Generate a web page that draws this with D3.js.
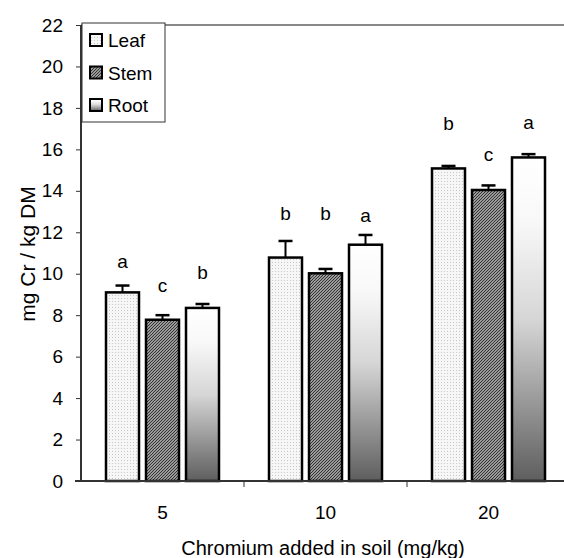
<!DOCTYPE html>
<html>
<head>
<meta charset="utf-8">
<script src="https://cdn.jsdelivr.net/npm/d3@7/dist/d3.min.js"></script>
<style>
  html, body { margin: 0; padding: 0; background: #fff; }
  svg { display: block; font-family: "Liberation Sans", Arial, sans-serif; }
</style>
</head>
<body>
<svg id="chart" width="564" height="558"></svg>
<script>
// Chromium content per plant organ, by dose added to soil
const doses = ["5", "10", "20"];
const organs = ["Leaf", "Stem", "Root"];
const leafMean = [9.1, 10.78, 15.08];
const stemMean = [7.78, 10.02, 14.04];
const rootMean = [8.35, 11.4, 15.61];
const leafErr = [0.33, 0.8, 0.12];
const stemErr = [0.22, 0.21, 0.22];
const rootErr = [0.19, 0.47, 0.16];
// Significance letters and the level (mg/kg) of their baseline
const leafLetters = ["a", "b", "b"];
const stemLetters = ["c", "b", "c"];
const rootLetters = ["b", "a", "a"];
const leafLetterLevel = [10.27, 12.59, 16.93];
const stemLetterLevel = [9.12, 12.59, 15.44];
const rootLetterLevel = [9.74, 12.49, 17.0];
const yTicks = [0, 2, 4, 6, 8, 10, 12, 14, 16, 18, 20, 22];

const means = [leafMean, stemMean, rootMean];
const errs = [leafErr, stemErr, rootErr];
const letters = [leafLetters, stemLetters, rootLetters];
const letterLevels = [leafLetterLevel, stemLetterLevel, rootLetterLevel];

const svg = d3.select("#chart");
const margin = { left: 81, top: 25, bottom: 481, right: 570 };
const FS = 19;

const x0 = d3.scaleBand().domain(doses).range([margin.left, margin.right]).padding(0);
const x1 = d3.scaleBand().domain(organs).range([0, x0.bandwidth()])
  .paddingInner(0.175).paddingOuter(0.625);
const y = d3.scaleLinear().domain([0, 22]).range([margin.bottom, margin.top]);

// Fills: dotted, hatched, and a vertical gradient
const defs = svg.append("defs");
const dots = defs.append("pattern").attr("id", "fill-Leaf")
  .attr("patternUnits", "userSpaceOnUse").attr("width", 3).attr("height", 3);
dots.append("rect").attr("width", 3).attr("height", 3).attr("fill", "#f6f6f6");
dots.append("rect").attr("x", 1).attr("y", 1).attr("width", 1).attr("height", 1).attr("fill", "#c8c8c8");

const hatch = defs.append("pattern").attr("id", "fill-Stem")
  .attr("patternUnits", "userSpaceOnUse").attr("width", 3).attr("height", 3);
hatch.append("rect").attr("width", 3).attr("height", 3).attr("fill", "#eeeeee");
hatch.append("path").attr("d", "M-1,1 L1,-1 M0,3 L3,0 M2,4 L4,2")
  .attr("stroke", "#333").attr("stroke-width", 1.3);

const grad = defs.append("linearGradient").attr("id", "fill-Root")
  .attr("x1", 0).attr("y1", 0).attr("x2", 0).attr("y2", 1);
[[0, "#ffffff"], [0.2, "#f8f8f8"], [0.5, "#d6d6d6"], [1, "#5e5e5e"]]
  .forEach(([o, c]) => grad.append("stop").attr("offset", o).attr("stop-color", c));

// Plot frame top edge
svg.append("line")
  .attr("x1", margin.left).attr("x2", margin.right)
  .attr("y1", margin.top).attr("y2", margin.top)
  .attr("stroke", "#888").attr("stroke-width", 2);

// Bars
const groups = svg.append("g").selectAll("g")
  .data(doses).join("g")
  .attr("transform", d => `translate(${x0(d)},0)`);

organs.forEach((organ, si) => {
  groups.each(function (dose, gi) {
    const g = d3.select(this);
    const v = means[si][gi];
    const e = errs[si][gi];
    const bx = x1(organ);
    const bw = x1.bandwidth();
    const cx = bx + bw / 2;
    // error bar (upper only)
    g.append("line").attr("x1", cx).attr("x2", cx)
      .attr("y1", y(v)).attr("y2", y(v + e))
      .attr("stroke", "#000").attr("stroke-width", 2);
    g.append("line").attr("x1", cx - 7).attr("x2", cx + 7)
      .attr("y1", y(v + e)).attr("y2", y(v + e))
      .attr("stroke", "#000").attr("stroke-width", 2.5);
    g.append("rect")
      .attr("x", bx).attr("y", y(v))
      .attr("width", bw).attr("height", y(0) - y(v))
      .attr("fill", `url(#fill-${organ})`)
      .attr("stroke", "#000").attr("stroke-width", 2.5);
    g.append("text")
      .attr("x", cx).attr("y", y(letterLevels[si][gi]))
      .attr("text-anchor", "middle")
      .attr("font-size", FS).attr("fill", "#000")
      .text(letters[si][gi]);
  });
});

// Axes
const yAxis = svg.append("g")
  .attr("transform", `translate(${margin.left},0)`)
  .call(d3.axisLeft(y).tickValues(yTicks).tickSize(5).tickPadding(13));
yAxis.select(".domain").attr("d", `M0,${margin.top}V${margin.bottom}`)
  .attr("stroke", "#333").attr("stroke-width", 2);
yAxis.selectAll(".tick line").attr("stroke", "#333");
yAxis.selectAll(".tick text").attr("font-size", FS).attr("fill", "#000")
  .attr("font-family", "Liberation Sans, Arial, sans-serif");

const xAxis = svg.append("g")
  .attr("transform", `translate(0,${margin.bottom})`);
xAxis.append("line")
  .attr("x1", margin.left - 6).attr("x2", margin.right)
  .attr("stroke", "#333").attr("stroke-width", 2);
xAxis.selectAll("line.sep")
  .data(doses.slice(1)).join("line").attr("class", "sep")
  .attr("x1", d => x0(d)).attr("x2", d => x0(d))
  .attr("y1", 0).attr("y2", 6).attr("stroke", "#333");
xAxis.selectAll("text")
  .data(doses).join("text")
  .attr("x", d => x0(d) + x0.bandwidth() / 2)
  .attr("y", 38)
  .attr("text-anchor", "middle")
  .attr("font-size", FS).attr("fill", "#000")
  .text(d => d);

// Axis titles
svg.append("text")
  .attr("x", 323).attr("y", 555)
  .attr("text-anchor", "middle").attr("font-size", 20)
  .text("Chromium added in soil (mg/kg)");
svg.append("text")
  .attr("transform", "translate(35,254) rotate(-90)")
  .attr("text-anchor", "middle").attr("font-size", 21)
  .text("mg Cr / kg DM");

// Legend
const legend = svg.append("g");
legend.append("rect")
  .attr("x", 82).attr("y", 23).attr("width", 83).attr("height", 99)
  .attr("fill", "#fff").attr("stroke", "#333").attr("stroke-width", 1);
organs.forEach((organ, i) => {
  const cy = 40 + i * 32.5;
  legend.append("rect")
    .attr("x", 90).attr("y", cy - 6).attr("width", 12).attr("height", 12)
    .attr("fill", `url(#fill-${organ})`)
    .attr("stroke", "#000").attr("stroke-width", 2);
  legend.append("text")
    .attr("x", 108).attr("y", cy + 7)
    .attr("font-size", FS).attr("fill", "#000")
    .text(organ);
});
</script>
</body>
</html>
